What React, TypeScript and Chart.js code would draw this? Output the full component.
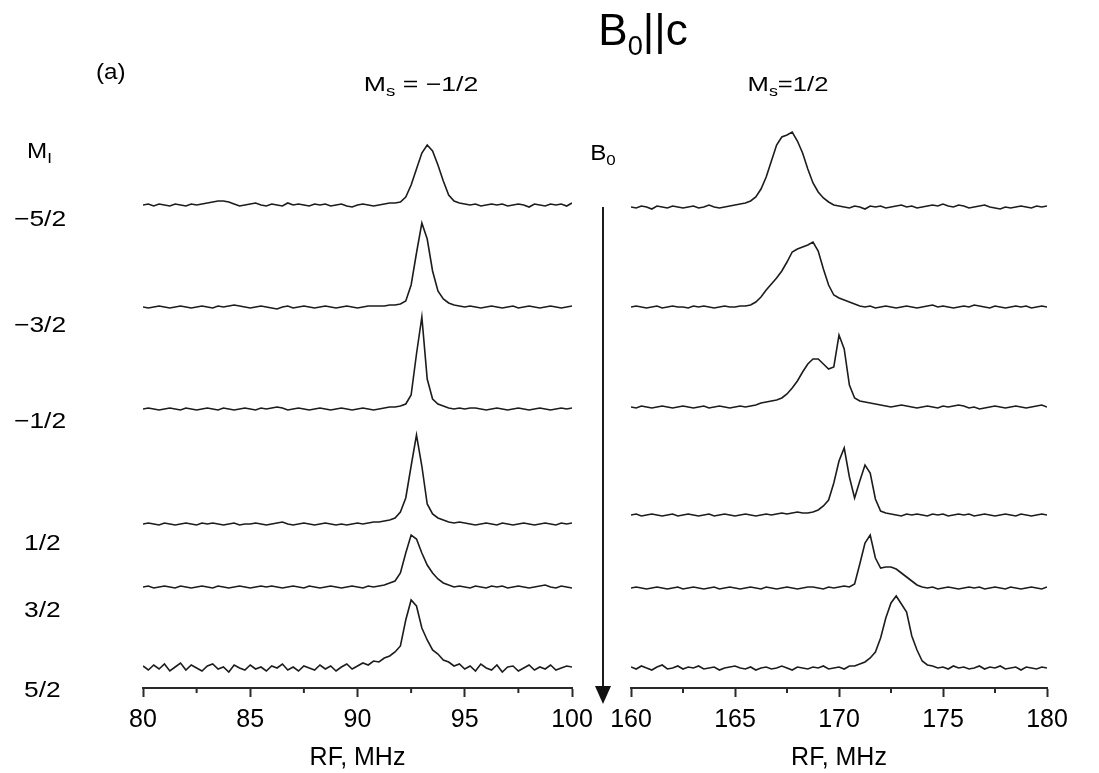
import React, { useEffect, useRef } from "react";
import { Chart, registerables } from "chart.js";

Chart.register(...registerables);

// ---------- data ----------
const FREQ_STEP = 0.25;
const leftRange = [80, 100];
const rightRange = [160, 180];
const leftFreqs = Array.from({ length: 81 }, (_, i) => leftRange[0] + i * FREQ_STEP);
const rightFreqs = Array.from({ length: 81 }, (_, i) => rightRange[0] + i * FREQ_STEP);

const leftMinorTicks = [82.5, 87.5, 92.5, 97.5];
const rightMinorTicks = [162.5, 167.5, 172.5, 177.5];
const xAxisTitle = "RF, MHz";

const nuclearLabels = ["−5/2", "−3/2", "−1/2", "1/2", "3/2", "5/2"];

// Ms = -1/2 spectra (intensity above each trace's baseline)
const left1 = [0,1,-1,1,0,-1,1,0,-1,1, 0,1,2,3,4,4,3,1,-1,0, 1,2,0,-1,1,0,-1,2,0,1, 0,-1,1,0,1,-1,0,1,-1,-2, 0,1,0,-1,0,1,2,2,3,8, 20,36,52,60,54,40,24,10,4,2, 1,0,1,-1,0,1,0,1,-1,0, 1,0,-2,1,0,-1,1,0,1,-1, 2];
const left2 = [0,-1,0,1,0,-1,0,1,0,-1, 0,1,0,-1,1,0,1,2,1,0, -1,0,1,0,-1,-2,0,1,-1,0, 1,0,-1,0,1,0,-1,0,1,0, -1,0,1,1,1,1,2,2,3,6, 22,54,84,68,36,16,8,4,2,1, 0,1,0,-1,0,1,0,-1,0,1, -1,0,1,0,-1,0,1,0,-1,0, 1];
const left3 = [0,1,0,-1,0,1,0,-1,1,0, -1,0,1,0,-1,1,0,-1,0,1, 0,-1,1,0,1,2,1,-1,0,1, 0,-1,0,1,0,-1,0,1,0,-1, 0,1,0,-1,0,1,2,2,3,5, 14,55,92,30,10,5,3,1,0,1, 0,1,1,0,-1,0,1,0,-1,0, 1,0,-1,0,1,0,-1,0,1,0, 1];
const left4 = [0,1,0,-1,1,0,-1,0,1,0, -1,1,0,1,0,-1,0,1,-1,0, 0,1,0,-1,0,1,2,0,-1,0, 1,0,-1,0,1,0,-1,0,-1,0, 1,0,1,2,2,3,4,6,12,26, 58,89,58,20,10,6,4,2,1,2, 1,0,-1,0,1,0,-1,1,0,-1, 0,1,0,-1,0,1,0,-1,1,0, 1];
const left5 = [0,1,-1,0,1,0,-1,1,0,-1, 0,1,0,-1,1,0,-1,0,1,0, -1,0,1,0,1,0,-1,0,1,0, -1,1,0,-1,0,1,0,-1,0,1, 0,-1,1,0,1,2,4,6,14,34, 52,48,34,22,14,8,4,2,0,1, 0,-1,1,0,-1,1,0,1,-1,0, 1,0,-1,0,1,2,0,-1,1,0, -1];
const left6 = [2,-2,3,-1,4,-3,1,5,-2,3, 0,-3,2,4,-1,1,-4,3,0,-2, 3,-1,1,-3,2,0,4,-2,1,-3, 2,0,-2,3,-1,2,-3,1,4,-1, 2,5,3,7,6,10,12,16,22,48, 68,62,40,28,18,14,8,6,2,4, -1,2,-3,4,0,-2,3,-4,1,2, -3,0,3,-2,1,-1,3,-2,0,2, 1];

// Ms = +1/2 spectra
const right1 = [0,-1,1,0,-2,1,0,-1,1,0, -1,0,1,-1,0,2,0,-1,0,1, 2,3,4,6,10,18,30,46,62,70, 72,75,66,54,38,24,15,9,5,2, 1,0,-1,1,0,-2,1,0,1,-1, 0,1,2,0,1,-1,0,1,2,1, 3,1,0,2,1,-1,0,1,2,0, -1,-2,0,-1,0,1,0,-1,1,0, 1];
const right2 = [0,1,0,-1,0,1,-1,0,1,0, 0,-1,1,0,1,0,-1,0,1,0, 0,1,1,2,5,10,17,23,29,36, 45,55,58,60,62,65,56,38,22,12, 9,7,5,3,1,0,1,-1,0,1, 0,-1,0,1,0,-1,0,1,2,0, 1,0,-1,0,1,0,2,1,0,-1, 1,0,-1,0,1,0,1,-1,0,1, 0];
const right3 = [0,-1,1,0,-1,0,1,0,-1,0, 1,0,-1,0,1,-1,0,1,0,-1, 0,1,0,1,2,4,5,6,7,9, 13,19,26,35,43,48,48,43,38,40, 72,58,22,9,6,5,4,3,2,1, 0,1,2,1,0,-1,0,1,0,-1, 1,0,1,2,1,-1,0,-2,-1,0, 1,0,-1,0,1,0,-1,0,1,2, 0];
const right4 = [0,1,-1,0,1,0,-1,0,1,-1, 0,1,0,-1,0,1,-1,0,1,0, -1,0,1,0,-1,0,1,0,1,2, 1,2,3,2,2,3,5,9,15,32, 54,67,38,17,34,50,42,16,4,2, 1,0,-1,1,0,1,0,-1,1,0, 1,-1,0,1,0,1,-1,0,1,0, -1,0,1,0,-1,1,0,-1,0,1, 0];
const right5 = [0,1,0,-1,0,1,0,-1,0,1, -1,0,1,0,-1,0,1,-1,0,1, 0,-1,0,1,0,-1,1,0,-1,0, 1,0,-1,0,1,1,0,-1,1,0, 1,2,1,4,24,45,53,30,20,21, 21,19,15,11,7,3,1,0,1,-1, 0,1,0,-1,0,1,0,1,-1,0, 1,0,-1,1,0,-1,0,1,0,-1, 1];
const right6 = [1,-1,2,0,-2,1,3,-1,0,2, -1,1,0,2,-1,0,1,-2,0,1, 2,0,-1,1,-2,0,1,-1,0,2, 0,-2,1,0,-1,1,0,2,-1,0, 1,-1,2,2,4,6,10,16,30,50, 65,72,64,56,32,18,7,3,2,0, 1,-1,2,0,1,-1,0,2,-1,1, 0,2,-1,0,1,-2,1,0,-1,1, 0];

const leftSpectra = [left1, left2, left3, left4, left5, left6];
const rightSpectra = [right1, right2, right3, right4, right5, right6];

// vertical stacking offsets (intensity units) of each trace's baseline
const leftStackOffsets = [483, 381, 279, 164, 101, 20];
const rightStackOffsets = [481, 381, 281, 173, 100, 20];
const Y_MAX = 580;

// ---------- chart helpers ----------
const FONT = "'Liberation Sans', Arial, Helvetica, sans-serif";
const INK = "#1c1c1c";
const AXIS = "#2a2a2a";

const minorTickPlugin = {
  id: "minorTicks",
  afterDraw(chart: any, _args: any, opts: any) {
    const vals: number[] = (opts && opts.values) || [];
    const xs = chart.scales.x;
    const ctx = chart.ctx;
    const y0 = chart.chartArea.bottom;
    ctx.save();
    ctx.strokeStyle = AXIS;
    ctx.lineWidth = 2;
    ctx.beginPath();
    for (const v of vals) {
      const px = xs.getPixelForValue(v);
      ctx.moveTo(px, y0);
      ctx.lineTo(px, y0 + 5);
    }
    ctx.stroke();
    ctx.restore();
  },
};

function buildConfig(
  freqs: number[],
  spectra: number[][],
  offsets: number[],
  range: number[],
  minor: number[],
  padding: { left: number; right: number; top: number; bottom: number }
): any {
  return {
    type: "line",
    data: {
      datasets: spectra.map((s, k) => ({
        data: s.map((v, i) => ({ x: freqs[i], y: v + offsets[k] })),
        borderColor: INK,
        borderWidth: 1.6,
        pointRadius: 0,
        tension: 0,
        fill: false,
      })),
    },
    options: {
      animation: false,
      responsive: false,
      maintainAspectRatio: false,
      layout: { padding },
      plugins: {
        legend: { display: false },
        tooltip: { enabled: false },
        minorTicks: { values: minor },
      },
      scales: {
        x: {
          type: "linear",
          min: range[0],
          max: range[1],
          ticks: {
            stepSize: 5,
            autoSkip: false,
            maxRotation: 0,
            padding: 8,
            color: "#000",
            font: { family: FONT, size: 25 },
          },
          grid: {
            display: true,
            drawOnChartArea: false,
            drawTicks: true,
            tickLength: 9,
            tickWidth: 2,
            tickColor: AXIS,
          },
          border: { display: true, color: AXIS, width: 2 },
          title: {
            display: true,
            text: xAxisTitle,
            color: "#000",
            font: { family: FONT, size: 25 },
            padding: { top: 0, bottom: 0 },
          },
        },
        y: { display: false, min: 0, max: Y_MAX },
      },
    },
    plugins: [minorTickPlugin],
  };
}

function Txt(props: { x: number; y: number; size: number; align?: "left" | "center"; sx?: number; children: any }) {
  const { x, y, size, align = "left", sx = 1, children } = props;
  const tx = align === "center" ? "-50%" : "0";
  return (
    <div
      style={{
        position: "absolute",
        left: x,
        top: y,
        transform: `translate(${tx}, -50%) scaleX(${sx})`,
        transformOrigin: align === "center" ? "center center" : "left center",
        fontSize: size,
        fontFamily: FONT,
        color: "#000",
        whiteSpace: "nowrap",
        lineHeight: 1,
      }}
    >
      {children}
    </div>
  );
}

export default function App() {
  const leftRef = useRef<HTMLCanvasElement>(null);
  const rightRef = useRef<HTMLCanvasElement>(null);

  useEffect(() => {
    const c1 = new Chart(
      leftRef.current as HTMLCanvasElement,
      buildConfig(leftFreqs, leftSpectra, leftStackOffsets, leftRange, leftMinorTicks, { left: 143, right: 527, top: 108, bottom: 0 })
    );
    const c2 = new Chart(
      rightRef.current as HTMLCanvasElement,
      buildConfig(rightFreqs, rightSpectra, rightStackOffsets, rightRange, rightMinorTicks, { left: 631, right: 52, top: 108, bottom: 0 })
    );
    return () => {
      c1.destroy();
      c2.destroy();
    };
  }, []);

  const sideY = [219, 325, 421, 543, 610, 690];
  const sideX = [14, 14, 14, 24, 24, 24];

  return (
    <div style={{ position: "fixed", left: 0, top: 0, width: 1099, height: 773, background: "#fff", overflow: "hidden" }}>
      <canvas ref={leftRef} width={1099} height={773} style={{ position: "absolute", left: 0, top: 0, width: 1099, height: 773 }} />
      <canvas ref={rightRef} width={1099} height={773} style={{ position: "absolute", left: 0, top: 0, width: 1099, height: 773 }} />

      <Txt x={643} y={34} size={44} align="center">
        B<sub style={{ fontSize: "0.62em" }}>0</sub>||c
      </Txt>
      <Txt x={96} y={72} size={22} sx={1.1}>(a)</Txt>
      <Txt x={421} y={86} size={21} align="center" sx={1.27}>
        M<sub style={{ fontSize: "0.7em" }}>s</sub> = −1/2
      </Txt>
      <Txt x={788} y={86} size={21} align="center" sx={1.22}>
        M<sub style={{ fontSize: "0.7em" }}>s</sub>=1/2
      </Txt>
      <Txt x={27} y={153} size={22} sx={1.1}>
        M<sub style={{ fontSize: "0.7em" }}>I</sub>
      </Txt>
      <Txt x={603} y={155} size={22} align="center" sx={1.1}>
        B<sub style={{ fontSize: "0.7em" }}>0</sub>
      </Txt>
      {nuclearLabels.map((t, i) => (
        <Txt key={t} x={sideX[i]} y={sideY[i]} size={22} sx={1.2}>
          {t}
        </Txt>
      ))}

      {/* B0 direction arrow */}
      <div style={{ position: "absolute", left: 602, top: 207, width: 2, height: 484, background: "#1c1c1c" }} />
      <div
        style={{
          position: "absolute",
          left: 595,
          top: 686,
          width: 0,
          height: 0,
          borderLeft: "8px solid transparent",
          borderRight: "8px solid transparent",
          borderTop: "18px solid #111",
        }}
      />
    </div>
  );
}
